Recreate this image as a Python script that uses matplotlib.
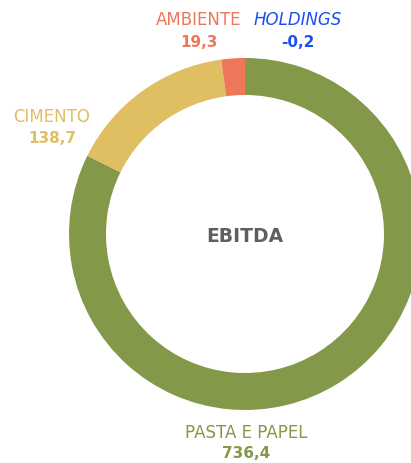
import matplotlib
matplotlib.use('Agg')
import matplotlib.pyplot as plt

# EBITDA by segment
segments = ['PASTA E PAPEL', 'CIMENTO', 'AMBIENTE', 'HOLDINGS']
values = [736.4, 138.7, 19.3, -0.2]
value_labels = ['736,4', '138,7', '19,3', '-0,2']
colors = ['#839949', '#E0BE62', '#EE765A', '#1A4FF5']

plt.rcParams['font.family'] = ['DejaVu Sans']

fig = plt.figure(figsize=(4.11, 4.64), dpi=100)
ax = fig.add_axes([0, 0, 1, 1])

# only positive values can be drawn as wedges
pos = [v for v in values if v > 0]
ax.pie(pos, colors=colors[:len(pos)], startangle=90, counterclock=False,
       radius=176, center=(0, 0), frame=True,
       wedgeprops=dict(width=37, linewidth=0))
ax.set_xlim(-245, 411 - 245)
ax.set_ylim(-(464 - 235), 235)
ax.set_aspect('equal')
ax.axis('off')

# label positions in pixels from chart centre (x, baseline of name, baseline of value)
label_pos = {
    'PASTA E PAPEL': (1, 438, 458),
    'CIMENTO': (-193, 122, 143),
    'AMBIENTE': (-46, 25, 47),
    'HOLDINGS': (53, 25, 47),
}
for name, val, col in zip(segments, value_labels, colors):
    x, yn, yv = label_pos[name]
    style = 'italic' if name == 'HOLDINGS' else 'normal'
    ax.text(x, 235 - yn, name, color=col, fontsize=12, ha='center',
            va='baseline', fontstyle=style)
    ax.text(x, 235 - yv, val, color=col, fontsize=11, ha='center',
            va='baseline', fontweight='bold')

ax.text(0, 235 - 242, 'EBITDA', color='#5F5F5F', fontsize=13.5,
        fontweight='bold', ha='center', va='baseline')

fig.savefig('out.png', dpi=100)
